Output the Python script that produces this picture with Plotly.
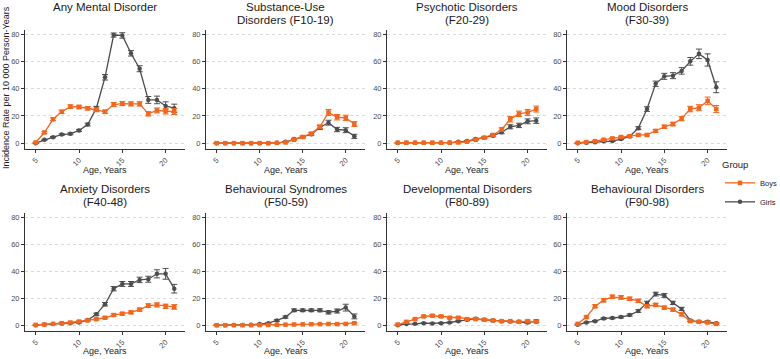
import plotly.graph_objects as go

ages = list(range(5, 22))

titles = [
    ["Any Mental Disorder"],
    ["Substance-Use", "Disorders (F10-19)"],
    ["Psychotic Disorders", "(F20-29)"],
    ["Mood Disorders", "(F30-39)"],
    ["Anxiety Disorders", "(F40-48)"],
    ["Behavioural Syndromes", "(F50-59)"],
    ["Developmental Disorders", "(F80-89)"],
    ["Behavioural Disorders", "(F90-98)"],
]

# Incidence rates per 10 000 person-years, ages 5..21
any_boys = [0.5, 7.8, 17.5, 23, 26.8, 26.5, 25.6, 24.4, 23, 28.3, 29, 28.8, 28.8, 21.5, 24, 23.4, 23.2]
any_girls = [0, 2.4, 4.4, 6.3, 6.8, 9.3, 13.7, 25.6, 48.3, 79.3, 79, 65.9, 54.6, 31.7, 31.7, 27.3, 25.6]
sub_boys = [0, 0, 0, 0, 0, 0, 0, 0.2, 0.5, 2.5, 4.5, 7, 12, 22.5, 19, 18.5, 14]
sub_girls = [0, 0, 0, 0, 0, 0, 0, 0.2, 1, 3, 4.5, 6.5, 11.5, 15, 10, 9.5, 5]
psy_boys = [0.3, 0.3, 0.3, 0.3, 0.3, 0.3, 0.3, 0.5, 1, 2.5, 4, 6, 10, 17.5, 21.5, 22.5, 25]
psy_girls = [0.3, 0.3, 0.3, 0.3, 0.3, 0.3, 0.4, 1, 1.5, 3, 4, 5.5, 8, 12, 13, 16, 16.5]
mood_boys = [0.3, 0.8, 1.5, 2.5, 3.5, 4.5, 5, 6, 6, 9, 12, 14, 18, 25, 26, 31, 25]
mood_girls = [0, 0.3, 0.7, 1.3, 1.5, 3, 5, 11, 25, 43.5, 49, 49.5, 53, 60, 65.5, 61, 41]
anx_boys = [0.2, 0.5, 1, 1.5, 2, 2.7, 3.5, 4.5, 5.5, 7.5, 8.5, 9.5, 11.5, 14.5, 15, 14, 13.5]
anx_girls = [0, 0.5, 0.8, 1.2, 1.5, 2, 3.8, 8, 15.5, 27, 30.5, 30.5, 33.5, 34, 38, 38, 27]
syn_boys = [0, 0, 0, 0, 0, 0.1, 0.2, 0.3, 0.4, 0.5, 0.6, 0.7, 0.8, 0.9, 0.8, 0.9, 1.5]
syn_girls = [0, 0, 0.1, 0.2, 0.4, 0.8, 1.5, 3.5, 6, 11, 11, 11, 11, 9.5, 10.5, 13, 6.5]
dev_boys = [0.5, 2.5, 4.5, 6.5, 7, 6.5, 5.5, 5.5, 4.5, 4.5, 4, 3.5, 3, 3, 2.5, 3, 2.5]
dev_girls = [0, 0.8, 1, 1.5, 1.3, 1.5, 2, 3, 4, 4.8, 4, 3.5, 3, 2.8, 2.5, 2, 3]
beh_boys = [1, 6, 14, 18.5, 21, 20.5, 19.5, 18, 14, 15, 13, 11.5, 8, 3, 2.5, 2, 1]
beh_girls = [0.3, 2, 3, 5, 5.3, 6, 7.5, 10.5, 16.5, 23, 22, 16.5, 12, 3.5, 2.5, 2.5, 1.5]

# Half-widths of the confidence intervals
any_boys_err = [0.3, 0.8, 1, 1.2, 1.3, 1.3, 1.3, 1.3, 1.3, 1.5, 1.5, 1.5, 1.6, 1.6, 1.8, 2, 2.2]
any_girls_err = [0.2, 0.4, 0.5, 0.6, 0.7, 0.8, 1, 1.4, 2, 1.5, 2, 2, 2.2, 2.5, 2.8, 3, 3]
sub_boys_err = [0, 0, 0, 0, 0, 0, 0, 0.1, 0.2, 0.4, 0.6, 0.9, 1.3, 2.2, 2, 2, 1.8]
sub_girls_err = [0, 0, 0, 0, 0, 0, 0, 0.1, 0.2, 0.5, 0.7, 1, 1.4, 1.8, 1.6, 1.8, 1.5]
psy_boys_err = [0.1, 0.1, 0.1, 0.1, 0.1, 0.1, 0.1, 0.2, 0.3, 0.5, 0.7, 0.9, 1.3, 2, 2, 2.2, 2.2]
psy_girls_err = [0.1, 0.1, 0.1, 0.1, 0.1, 0.1, 0.1, 0.2, 0.4, 0.5, 0.7, 0.8, 1.1, 1.5, 1.6, 1.8, 2]
mood_boys_err = [0.1, 0.2, 0.3, 0.4, 0.5, 0.6, 0.6, 0.7, 0.7, 1, 1.2, 1.3, 1.6, 2, 2.2, 2.8, 2.6]
mood_girls_err = [0, 0.1, 0.2, 0.3, 0.3, 0.5, 0.7, 1.1, 1.7, 2, 2.2, 2.2, 2.4, 2.8, 3.5, 4.5, 4]
anx_boys_err = [0.1, 0.2, 0.3, 0.4, 0.4, 0.5, 0.6, 0.7, 0.7, 0.9, 1, 1, 1.1, 1.3, 1.5, 1.6, 1.7]
anx_girls_err = [0, 0.2, 0.3, 0.3, 0.4, 0.4, 0.6, 0.9, 1.3, 1.6, 1.8, 1.8, 2, 2.2, 3, 4, 3.2]
syn_boys_err = [0, 0, 0, 0, 0, 0.1, 0.1, 0.1, 0.1, 0.2, 0.2, 0.2, 0.2, 0.3, 0.3, 0.4, 0.5]
syn_girls_err = [0, 0, 0.1, 0.1, 0.1, 0.2, 0.4, 0.6, 0.8, 1, 1, 1, 1.1, 1.2, 1.5, 2.5, 1.8]
dev_boys_err = [0.2, 0.5, 0.6, 0.8, 0.8, 0.8, 0.7, 0.7, 0.6, 0.6, 0.6, 0.5, 0.5, 0.5, 0.6, 0.8, 0.7]
dev_girls_err = [0, 0.3, 0.3, 0.4, 0.3, 0.4, 0.4, 0.5, 0.6, 0.6, 0.6, 0.5, 0.5, 0.5, 0.6, 0.7, 0.9]
beh_boys_err = [0.3, 0.8, 1.1, 1.3, 1.3, 1.3, 1.3, 1.2, 1.1, 1.2, 1.1, 1.1, 1, 0.6, 0.6, 0.6, 0.5]
beh_girls_err = [0.2, 0.4, 0.5, 0.6, 0.6, 0.7, 0.8, 1, 1.2, 1.4, 1.4, 1.2, 1.2, 0.7, 0.6, 0.8, 0.5]

boys_series = [any_boys, sub_boys, psy_boys, mood_boys, anx_boys, syn_boys, dev_boys, beh_boys]
girls_series = [any_girls, sub_girls, psy_girls, mood_girls, anx_girls, syn_girls, dev_girls, beh_girls]
boys_errs = [any_boys_err, sub_boys_err, psy_boys_err, mood_boys_err, anx_boys_err, syn_boys_err, dev_boys_err, beh_boys_err]
girls_errs = [any_girls_err, sub_girls_err, psy_girls_err, mood_girls_err, anx_girls_err, syn_girls_err, dev_girls_err, beh_girls_err]

y_ticks = [0, 20, 40, 60, 80]
x_ticks = [5, 10, 15, 20]

BOYS = "#F4661B"
GIRLS = "#4D4D4D"
FONT = "Liberation Sans, Arial, sans-serif"
W, H = 780, 359

col_px = [(25, 185), (206, 365), (387, 547), (567, 727)]
row_px = [(30, 149), (213, 331)]

fig = go.Figure()
annotations = []

for i in range(8):
    r, c = divmod(i, 4)
    n = i + 1
    xa = "x" if n == 1 else f"x{n}"
    ya = "y" if n == 1 else f"y{n}"
    for name, vals, errs, col, sym in [
        ("Girls", girls_series[i], girls_errs[i], GIRLS, "circle"),
        ("Boys", boys_series[i], boys_errs[i], BOYS, "square"),
    ]:
        fig.add_trace(go.Scatter(
            x=ages, y=vals, mode="lines+markers", name=name,
            line=dict(color=col, width=1.3),
            marker=dict(color=col, size=4.5, symbol=sym),
            error_y=dict(type="data", array=errs, color=col, thickness=1, width=3),
            xaxis=xa, yaxis=ya, showlegend=(i == 0), legendgroup=name,
            legendrank=1 if name == "Boys" else 2,
        ))
    x0, x1 = col_px[c]
    y0, y1 = row_px[r]
    axis_common = dict(
        showline=True, linecolor="#333333", linewidth=1,
        ticks="outside", ticklen=3, tickcolor="#333333", tickwidth=1,
        tickfont=dict(family=FONT, size=7.5, color="#4D4D4D"),
    )
    fig.layout[f"xaxis{'' if n == 1 else n}"] = dict(
        domain=[x0 / W, x1 / W], anchor=ya, range=[3.76, 22.24],
        tickvals=x_ticks, tickangle=-45, showgrid=False, zeroline=False,
        **axis_common,
    )
    fig.layout[f"yaxis{'' if n == 1 else n}"] = dict(
        domain=[1 - y1 / H, 1 - y0 / H], anchor=xa, range=[-4.3, 83],
        tickvals=y_ticks, showgrid=True, gridcolor="#DADADA", griddash="dot",
        gridwidth=0.8, zeroline=False, **axis_common,
    )
    # Titles
    cx = (x0 + x1) / 2 / W
    title_top = 7 if r == 0 else 189
    for k, line in enumerate(titles[i]):
        annotations.append(dict(
            x=cx, y=1 - (title_top + 13 * k) / H, xref="paper", yref="paper",
            text=line, showarrow=False, xanchor="center", yanchor="middle",
            font=dict(family=FONT, size=11.5, color="#1A1A1A"),
        ))
    # x axis title
    annotations.append(dict(
        x=cx, y=1 - (170 if r == 0 else 351) / H, xref="paper", yref="paper",
        text="Age, Years", showarrow=False, xanchor="center", yanchor="middle",
        font=dict(family=FONT, size=9, color="#1A1A1A"),
    ))

annotations.append(dict(
    x=6 / W, y=1 - 88 / H, xref="paper", yref="paper",
    text="Incidence Rate per 10 000 Person-Years", showarrow=False, textangle=-90,
    xanchor="center", yanchor="middle",
    font=dict(family=FONT, size=9, color="#1A1A1A"),
))

fig.update_layout(
    width=W, height=H, margin=dict(l=0, r=0, t=0, b=0, autoexpand=False),
    paper_bgcolor="white", plot_bgcolor="white",
    annotations=annotations,
    legend=dict(
        x=720 / W, y=1 - 156 / H, xanchor="left", yanchor="top",
        title=dict(text="Group", font=dict(family=FONT, size=9.5, color="#1A1A1A")),
        font=dict(family=FONT, size=7.5, color="#1A1A1A"),
        itemwidth=30, tracegroupgap=0, bgcolor="rgba(0,0,0,0)",
    ),
)

fig.write_html("out.html")
